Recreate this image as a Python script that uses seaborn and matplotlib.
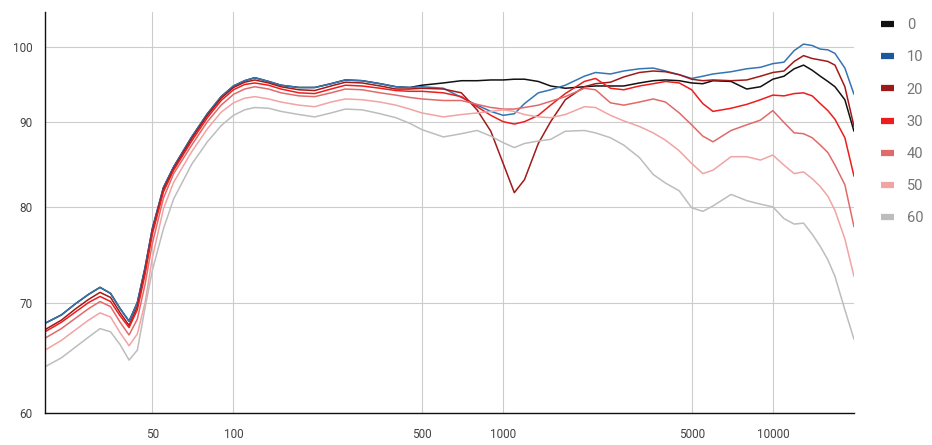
### Frequency response chart, one line per setting ###

import matplotlib.pyplot as plt
import pandas as pd
import seaborn as sns
from matplotlib.lines import Line2D

freqs = [20, 23, 26, 29, 32, 35, 38, 41, 44, 47, 50, 55, 60, 70, 80, 90, 100, 110, 120,
         135, 150, 175, 200, 230, 260, 300, 350, 400, 450, 500, 600, 700, 800, 900, 1000,
         1100, 1200, 1350, 1500, 1700, 2000, 2200, 2500, 2800, 3200, 3600, 4000, 4500,
         5000, 5500, 6000, 7000, 8000, 9000, 10000, 11000, 12000, 13000, 14000, 15000,
         16000, 17000, 18500, 20000]

s0 = [68.0, 68.8, 69.9, 70.8, 71.5, 70.9, 69.4, 68.2, 70.0, 73.5, 77.6, 82.2, 84.6, 88.2,
      91.1, 93.3, 94.7, 95.4, 95.8, 95.3, 94.8, 94.5, 94.5, 95.0, 95.5, 95.4, 95.0, 94.6,
      94.5, 94.8, 95.1, 95.4, 95.4, 95.5, 95.5, 95.6, 95.6, 95.3, 94.7, 94.4, 94.6, 94.7,
      94.7, 94.7, 95.1, 95.4, 95.5, 95.4, 95.1, 95.0, 95.4, 95.3, 94.3, 94.6, 95.6, 96.0,
      97.0, 97.5, 96.8, 96.0, 95.3, 94.6, 92.9, 88.9]
s10 = [68.0, 68.8, 69.9, 70.8, 71.5, 70.9, 69.4, 68.2, 70.0, 73.5, 77.6, 82.2, 84.6, 88.2,
       91.1, 93.3, 94.7, 95.4, 95.8, 95.3, 94.8, 94.5, 94.5, 95.0, 95.5, 95.4, 95.0, 94.6,
       94.5, 94.6, 94.4, 93.2, 92.2, 91.4, 90.9, 91.1, 92.4, 93.8, 94.2, 94.8, 96.0, 96.5,
       96.3, 96.7, 97.0, 97.1, 96.7, 96.2, 95.7, 96.0, 96.3, 96.6, 97.0, 97.2, 97.7, 97.9,
       99.5, 100.4, 100.2, 99.7, 99.6, 99.1, 97.1, 93.6]
s20 = [67.4, 68.3, 69.4, 70.3, 71.0, 70.5, 69.0, 67.8, 69.6, 73.2, 77.3, 82.0, 84.4, 88.0,
       90.9, 93.1, 94.5, 95.2, 95.5, 95.1, 94.6, 94.2, 94.1, 94.7, 95.2, 95.1, 94.7, 94.3,
       94.3, 94.4, 94.3, 93.8, 91.6, 88.9, 85.0, 81.6, 83.1, 87.4, 90.1, 92.9, 94.6, 95.0,
       95.2, 95.9, 96.5, 96.7, 96.6, 96.2, 95.6, 95.4, 95.5, 95.4, 95.5, 96.0, 96.5, 96.7,
       98.0, 98.8, 98.4, 98.2, 98.0, 97.5, 94.6, 89.5]
s30 = [67.2, 68.1, 69.1, 70.0, 70.6, 70.1, 68.7, 67.6, 69.3, 72.8, 77.0, 81.7, 84.2, 87.7,
       90.6, 92.8, 94.2, 94.9, 95.1, 94.8, 94.3, 93.8, 93.7, 94.3, 94.8, 94.7, 94.4, 94.1,
       94.0, 94.0, 93.8, 93.3, 92.0, 90.9, 90.1, 89.8, 90.1, 90.9, 92.2, 93.7, 95.3, 95.7,
       94.4, 94.2, 94.7, 95.0, 95.3, 95.1, 94.2, 92.4, 91.4, 91.8, 92.3, 92.9, 93.5, 93.4,
       93.7, 93.8, 93.4, 92.4, 91.5, 90.4, 88.1, 83.5]
s40 = [66.6, 67.5, 68.5, 69.4, 70.1, 69.6, 68.1, 66.9, 68.4, 71.8, 76.0, 81.0, 83.8, 87.2,
       90.1, 92.2, 93.6, 94.3, 94.6, 94.3, 93.8, 93.4, 93.3, 93.8, 94.3, 94.2, 93.8, 93.5,
       93.2, 93.0, 92.8, 92.8, 92.3, 91.9, 91.7, 91.7, 91.9, 92.2, 92.7, 93.3, 94.4, 94.2,
       92.5, 92.2, 92.6, 93.0, 92.6, 91.2, 89.7, 88.3, 87.6, 89.0, 89.7, 90.3, 91.5, 90.0,
       88.7, 88.6, 88.1, 87.2, 86.3, 84.8, 82.5, 77.8]
s50 = [65.5, 66.4, 67.4, 68.3, 69.0, 68.6, 67.1, 65.9, 67.0, 70.0, 74.5, 79.8, 82.8, 86.4,
       89.2, 91.3, 92.5, 93.1, 93.3, 93.0, 92.6, 92.2, 92.0, 92.6, 93.0, 92.9, 92.6, 92.2,
       91.7, 91.2, 90.7, 91.0, 91.2, 91.4, 91.6, 91.4, 91.0, 90.7, 90.6, 91.0, 92.0, 91.9,
       90.9, 90.2, 89.5, 88.7, 87.8, 86.5, 85.0, 83.8, 84.2, 85.8, 85.8, 85.4, 86.0, 84.8,
       83.8, 84.0, 83.2, 82.3, 81.2, 79.6, 76.5, 72.6]
s60 = [64.0, 64.8, 65.8, 66.7, 67.5, 67.2, 66.0, 64.6, 65.5, 69.5, 73.2, 77.6, 80.9, 84.9,
       87.6, 89.6, 90.9, 91.6, 91.9, 91.8, 91.4, 91.0, 90.7, 91.2, 91.7, 91.6, 91.1, 90.6,
       89.9, 89.1, 88.2, 88.6, 89.0, 88.3, 87.5, 86.9, 87.4, 87.7, 87.9, 88.9, 89.0, 88.7,
       88.1, 87.2, 85.7, 83.7, 82.7, 81.8, 79.9, 79.5, 80.1, 81.4, 80.7, 80.3, 80.0, 78.7,
       78.1, 78.2, 77.0, 75.7, 74.3, 72.6, 69.3, 66.5]

labels = ["0", "10", "20", "30", "40", "50", "60"]
series = [s0, s10, s20, s30, s40, s50, s60]
colors = ["#111111", "#3574b2", "#a11a1a", "#ee1d1d", "#e06a6a", "#f2a3a3", "#bdbdbd"]
legend_colors = ["#111111", "#1a5a9c", "#9c1a1a", "#ee1d1d", "#e06a6a", "#f2a3a3", "#bdbdbd"]

df = pd.concat(
    [pd.DataFrame({"freq": freqs, "level": s, "setting": lab}) for lab, s in zip(labels, series)],
    ignore_index=True,
)

sns.set_style("white")
plt.rcParams["font.family"] = ["Roboto", "DejaVu Sans"]

fig = plt.figure(figsize=(9.32, 4.45), dpi=100)
ax = fig.add_axes([45 / 932, 1 - 413 / 445, (854 - 45) / 932, (413 - 12) / 445])

sns.lineplot(
    data=df, x="freq", y="level", hue="setting", hue_order=labels,
    palette=dict(zip(labels, colors)), linewidth=1.1, legend=False, ax=ax,
)

ax.set_xscale("log")
ax.set_yscale("log")
ax.set_xlim(20, 20000)
ax.set_ylim(60, 105)

xt = [50, 100, 500, 1000, 5000, 10000]
yt = [60, 70, 80, 90, 100]
ax.set_xticks(xt)
ax.set_xticklabels([str(v) for v in xt])
ax.set_yticks(yt)
ax.set_yticklabels([str(v) for v in yt])
ax.minorticks_off()
ax.tick_params(axis="both", length=0, labelsize=8.5, colors="#444444")
ax.tick_params(axis="x", pad=11)
ax.tick_params(axis="y", pad=9)
ax.set_xlabel("")
ax.set_ylabel("")

ax.grid(True, color="#cccccc", linewidth=0.8)
ax.set_axisbelow(True)
for side in ["top", "right"]:
    ax.spines[side].set_visible(False)
for side in ["left", "bottom"]:
    ax.spines[side].set_color("#111111")
    ax.spines[side].set_linewidth(1.0)
    ax.spines[side].set_zorder(5)

handles = [Line2D([0], [0], color=c, linewidth=4.5, solid_capstyle="butt") for c in legend_colors]
fig.legend(
    handles, labels, loc="upper left", bbox_to_anchor=(868 / 932, 1 - 5 / 445),
    frameon=False, handlelength=0.85, handletextpad=0.9, labelspacing=1.25,
    fontsize=10.5, labelcolor="#757575",
)

fig.savefig("out.png", dpi=100)
